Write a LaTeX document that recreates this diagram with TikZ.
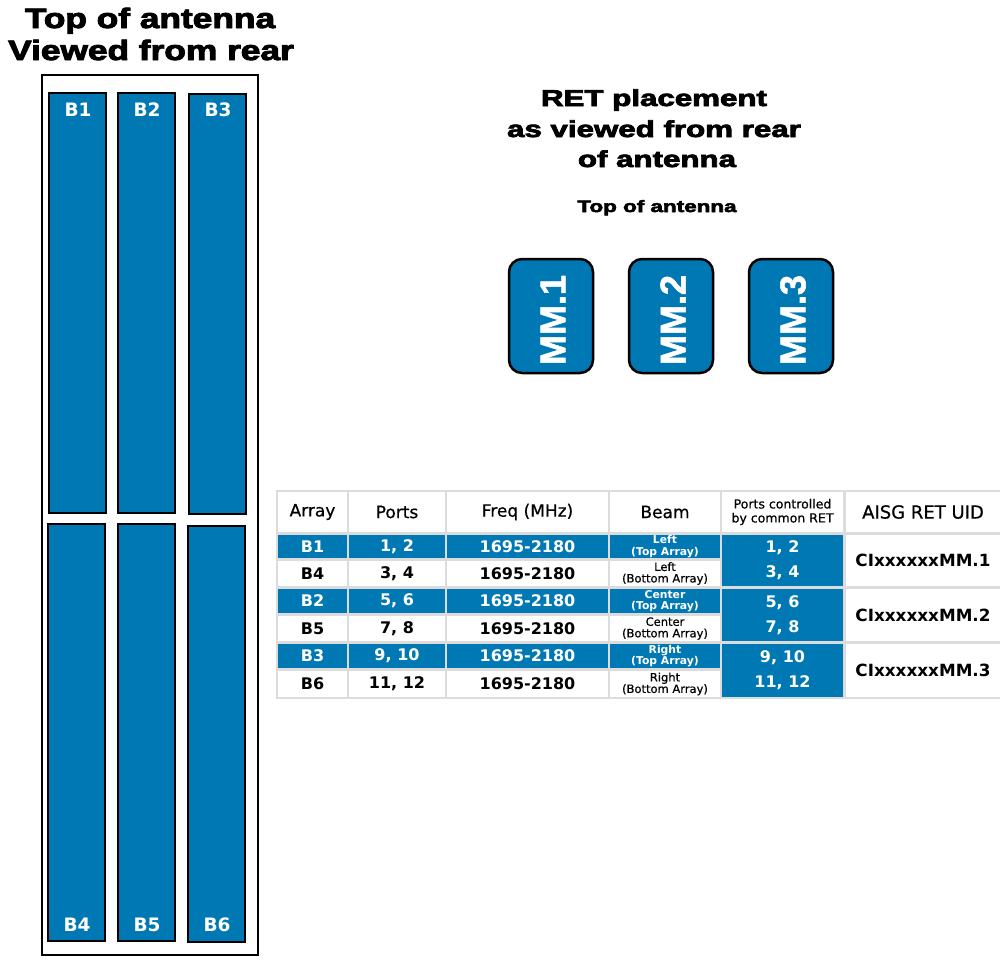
\documentclass[tikz,border=0pt]{standalone}
\usepackage{fontspec}
\usepackage{graphicx}
\setmainfont{DejaVu Sans}
\newfontfamily\heavy[BoldFeatures={FakeBold=3}]{Liberation Sans}
\newfontfamily\mmfont[BoldFeatures={FakeBold=1.5}]{Liberation Sans}
\newfontfamily\dvm[FakeBold=0.6]{DejaVu Sans}
\definecolor{cblue}{RGB}{0,120,180}
\definecolor{gridc}{RGB}{220,220,220}
\tikzset{
  bar/.style={fill=cblue,draw=black,line width=1.5pt},
  barlbl/.style={text=white,font=\bfseries\fontsize{18.5}{20}\selectfont,inner sep=0},
  ttl/.style={font=\heavy\bfseries\fontsize{28}{32}\selectfont,inner sep=0,anchor=base},
  rttl/.style={font=\heavy\bfseries\fontsize{23}{26}\selectfont,inner sep=0,anchor=base},
  sttl/.style={font=\heavy\bfseries\fontsize{16.5}{18}\selectfont,inner sep=0,anchor=base},
  mmbox/.style={fill=cblue,draw=black,line width=2.5pt,rounded corners=13pt,
     minimum width=84pt,minimum height=114pt,inner sep=0},
  mmtxt/.style={rotate=90,text=white,font=\mmfont\bfseries\fontsize{36}{37}\selectfont,inner sep=0},
  hd/.style={fill=white,inner sep=0,font=\dvm\fontsize{17}{19}\selectfont},
  bc/.style={fill=cblue,text=white,inner sep=0,font=\bfseries\fontsize{16}{18}\selectfont},
  wc/.style={fill=white,text=black,inner sep=0,font=\bfseries\fontsize{16}{18}\selectfont},
  bbeam/.style={bc,align=center,font=\bfseries\fontsize{10.8}{11.5}\selectfont},
  wbeam/.style={wc,align=center,font=\dvm\fontsize{11.5}{11.5}\selectfont},
  pcell/.style={bc,align=center,font=\bfseries\fontsize{16}{25}\selectfont},
  uid/.style={wc,font=\bfseries\fontsize{16.8}{18}\selectfont},
}
\newcommand\tc[7]{\node[#6,minimum width={#3pt-#1pt},minimum height={#4pt-#2pt}] (#7) at ({(#1+#3)/2},{(#2+#4)/2}) {#5};}
\begin{document}
\begin{tikzpicture}[x=1pt,y=-1pt]
\useasboundingbox (0,0) rectangle (1000,959);
% titles
\node[ttl] (t1) at (150,28) {\scalebox{1.26}[1]{Top of antenna}};
\node[ttl] (t2) at (151,60) {\scalebox{1.26}[1]{Viewed from rear}};
% antenna outline
\path[draw=black,line width=1.3pt,fill=white] (42,75) rectangle (258,955);
% bars
\path[bar] (49,93) rectangle (106,513);
\path[bar] (118,93) rectangle (175,513);
\path[bar] (189,94) rectangle (246,514);
\path[bar] (48,524) rectangle (105,941);
\path[bar] (118,524) rectangle (175,941);
\path[bar] (188,526) rectangle (245,942);
\node[barlbl] (b1) at (78,110) {B1};
\node[barlbl] (b2) at (147,110) {B2};
\node[barlbl] (b3) at (218,110) {B3};
\node[barlbl] (b4) at (77,925) {B4};
\node[barlbl] (b5) at (147,925) {B5};
\node[barlbl] (b6) at (217,925) {B6};
% RET title
\node[rttl] (r1) at (654,106) {\scalebox{1.36}[1]{RET placement}};
\node[rttl] (r2) at (654,137) {\scalebox{1.36}[1]{as viewed from rear}};
\node[rttl] (r3) at (657,167) {\scalebox{1.36}[1]{of antenna}};
\node[sttl] (r4) at (657,212) {\scalebox{1.36}[1]{Top of antenna}};
% MM boxes
\node[mmbox] (mm1) at (551,316) {};
\node[mmbox] (mm2) at (671,316) {};
\node[mmbox] (mm3) at (791,316) {};
\node[mmtxt] (mt1) at (553,320) {MM.1};
\node[mmtxt] (mt2) at (673,320) {MM.2};
\node[mmtxt] (mt3) at (793,320) {MM.3};
% table background
\path[fill=gridc] (276,490) rectangle (1000,699);
% header
\tc{278}{492}{347}{532}{Array}{hd}{h1}
\tc{349}{492}{445}{532}{Ports}{hd}{h2}
\tc{447}{492}{608}{532}{Freq (MHz)}{hd}{h3}
\tc{610}{492}{720}{532}{Beam}{hd}{h4}
\tc{722}{492}{843}{532}{Ports controlled\\by common RET}{hd,align=center,font=\dvm\fontsize{12.5}{14}\selectfont}{h5}
\tc{846}{492}{1000}{532}{AISG RET UID}{hd,font=\dvm\fontsize{18}{20}\selectfont}{h6}
% group 1
\tc{278}{535}{347}{558}{B1}{bc}{a1}
\tc{349}{535}{445}{558}{1, 2}{bc}{p1}
\tc{447}{535}{608}{558}{1695-2180}{bc}{f1}
\tc{610}{535}{720}{558}{Left\\(Top Array)}{bbeam}{m1}
\tc{278}{561}{347}{586}{B4}{wc}{a2}
\tc{349}{561}{445}{586}{3, 4}{wc}{p2}
\tc{447}{561}{608}{586}{1695-2180}{wc}{f2}
\tc{610}{561}{720}{586}{Left\\(Bottom Array)}{wbeam}{m2}
\tc{722}{535}{843}{586}{1, 2\\3, 4}{pcell}{c1}
\tc{846}{535}{1000}{586}{CIxxxxxxMM.1}{uid}{u1}
% group 2
\tc{278}{589}{347}{613}{B2}{bc}{a3}
\tc{349}{589}{445}{613}{5, 6}{bc}{p3}
\tc{447}{589}{608}{613}{1695-2180}{bc}{f3}
\tc{610}{589}{720}{613}{Center\\(Top Array)}{bbeam}{m3}
\tc{278}{616}{347}{641}{B5}{wc}{a4}
\tc{349}{616}{445}{641}{7, 8}{wc}{p4}
\tc{447}{616}{608}{641}{1695-2180}{wc}{f4}
\tc{610}{616}{720}{641}{Center\\(Bottom Array)}{wbeam}{m4}
\tc{722}{589}{843}{641}{5, 6\\7, 8}{pcell}{c2}
\tc{846}{589}{1000}{641}{CIxxxxxxMM.2}{uid}{u2}
% group 3
\tc{278}{644}{347}{668}{B3}{bc}{a5}
\tc{349}{644}{445}{668}{9, 10}{bc}{p5}
\tc{447}{644}{608}{668}{1695-2180}{bc}{f5}
\tc{610}{644}{720}{668}{Right\\(Top Array)}{bbeam}{m5}
\tc{278}{671}{347}{697}{B6}{wc}{a6}
\tc{349}{671}{445}{697}{11, 12}{wc}{p6}
\tc{447}{671}{608}{697}{1695-2180}{wc}{f6}
\tc{610}{671}{720}{697}{Right\\(Bottom Array)}{wbeam}{m6}
\tc{722}{644}{843}{697}{9, 10\\11, 12}{pcell}{c3}
\tc{846}{644}{1000}{697}{CIxxxxxxMM.3}{uid}{u3}
\end{tikzpicture}
\end{document}
